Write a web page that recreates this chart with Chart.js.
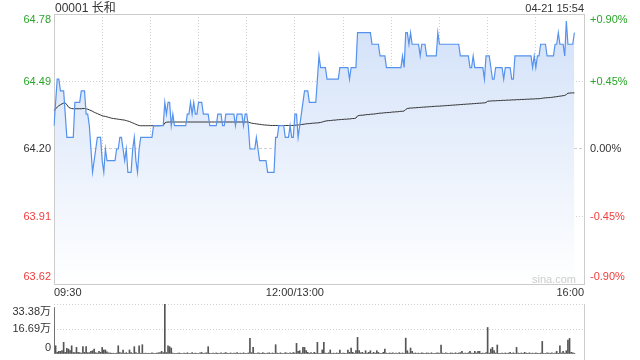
<!DOCTYPE html>
<html><head><meta charset="utf-8">
<script src="https://cdn.jsdelivr.net/npm/chart.js@4/dist/chart.umd.min.js"></script>
<style>
html,body{margin:0;padding:0;background:#fff;width:640px;height:360px;overflow:hidden}
#wrap{position:relative;width:640px;height:360px}
canvas{position:absolute;left:0}
#main{top:0}
#vol{top:296px}
.t{position:absolute;font-family:"Liberation Sans",Arial,"Noto Sans CJK SC",sans-serif;color:#333;white-space:nowrap;line-height:1}
</style></head><body>
<div id="wrap">
<canvas id="main" width="640" height="300"></canvas>
<canvas id="vol" width="640" height="64"></canvas>
<div class="t" style="left:55px;top:2px;font-size:12px">00001 长和</div>
<div class="t" style="right:56px;top:3px;font-size:11px">04-21 15:54</div>
<div class="t" style="left:532px;top:274px;font-size:11px;color:#cdcdcd">sina.com</div>
</div>
<script>
// ---- data ----
const prevClose = 64.20;
const priceTicks = [63.62, 63.91, 64.20, 64.49, 64.78];
const priceTickLabels = ['63.62', '63.91', '64.20', '64.49', '64.78'];
const pctTicks = [-0.90, -0.45, 0, 0.45, 0.90];
const pctTickLabels = ['-0.90%', '-0.45%', '0.00%', '+0.45%', '+0.90%'];
const tickColors = ['#f03c3c', '#f03c3c', '#333333', '#2aa62a', '#2aa62a'];
const volTicks = [0, 16.69, 33.38];
const volTickLabels = ['0', '16.69万', '33.38万'];
const xTickIndex = [0, 150, 330];
const xTickLabels = ['09:30', '12:00/13:00', '16:00'];

const price = [
64.30,64.40,64.50,64.50,64.45,64.45,64.45,64.35,64.25,64.25,
64.25,64.25,64.25,64.40,64.40,64.40,64.40,64.45,64.45,64.45,
64.35,64.35,64.30,64.20,64.10,64.15,64.20,64.25,64.25,64.25,
64.15,64.10,64.20,64.15,64.15,64.15,64.15,64.15,64.15,64.20,
64.20,64.25,64.25,64.20,64.15,64.20,64.10,64.10,64.10,64.20,
64.25,64.15,64.10,64.20,64.25,64.25,64.25,64.25,64.25,64.25,
64.25,64.25,64.30,64.30,64.30,64.30,64.30,64.30,64.30,64.40,
64.35,64.40,64.40,64.30,64.35,64.30,64.30,64.30,64.30,64.30,
64.30,64.30,64.30,64.35,64.35,64.40,64.35,64.40,64.35,64.35,
64.40,64.40,64.40,64.35,64.35,64.35,64.35,64.30,64.30,64.30,
64.30,64.30,64.35,64.35,64.35,64.30,64.30,64.35,64.35,64.35,
64.35,64.35,64.35,64.30,64.35,64.35,64.35,64.35,64.30,64.35,
64.35,64.30,64.20,64.20,64.20,64.20,64.25,64.20,64.15,64.15,
64.15,64.15,64.15,64.10,64.10,64.10,64.10,64.10,64.25,64.25,
64.30,64.30,64.30,64.30,64.25,64.25,64.25,64.30,64.25,64.25,
64.35,64.35,64.25,64.30,64.35,64.40,64.45,64.45,64.45,64.40,
64.40,64.40,64.40,64.40,64.50,64.60,64.55,64.55,64.55,64.55,
64.50,64.50,64.50,64.50,64.50,64.50,64.50,64.50,64.55,64.55,
64.55,64.55,64.55,64.55,64.50,64.55,64.55,64.55,64.55,64.70,
64.70,64.70,64.70,64.70,64.70,64.70,64.70,64.70,64.65,64.65,
64.65,64.65,64.65,64.60,64.60,64.60,64.60,64.55,64.55,64.55,
64.55,64.55,64.55,64.55,64.55,64.55,64.55,64.60,64.55,64.70,
64.70,64.65,64.70,64.65,64.65,64.65,64.65,64.65,64.60,64.65,
64.65,64.65,64.60,64.60,64.60,64.60,64.60,64.60,64.60,64.70,
64.65,64.65,64.65,64.65,64.65,64.65,64.65,64.65,64.65,64.65,
64.65,64.65,64.65,64.60,64.60,64.60,64.60,64.60,64.60,64.55,
64.55,64.60,64.55,64.55,64.55,64.55,64.55,64.55,64.50,64.60,
64.60,64.60,64.55,64.50,64.50,64.55,64.55,64.55,64.55,64.55,
64.50,64.55,64.55,64.55,64.55,64.50,64.50,64.60,64.60,64.60,
64.60,64.60,64.60,64.60,64.60,64.60,64.60,64.60,64.55,64.60,
64.55,64.60,64.60,64.65,64.65,64.65,64.65,64.60,64.60,64.60,
64.60,64.60,64.65,64.65,64.70,64.65,64.65,64.65,64.60,64.75,
64.65,64.65,64.65,64.65,64.70
];

const avgPrice = [
64.365,64.372,64.380,64.386,64.390,64.394,64.397,64.398,64.390,64.380,
64.376,64.374,64.373,64.373,64.373,64.373,64.373,64.373,64.374,64.374,
64.373,64.371,64.368,64.365,64.362,64.358,64.355,64.352,64.349,64.346,
64.343,64.341,64.340,64.338,64.336,64.334,64.332,64.331,64.330,64.329,
64.328,64.327,64.326,64.325,64.324,64.322,64.320,64.318,64.315,64.312,
64.309,64.306,64.303,64.301,64.300,64.300,64.300,64.300,64.300,64.300,
64.300,64.300,64.300,64.300,64.300,64.300,64.300,64.301,64.301,64.312,
64.315,64.316,64.316,64.316,64.316,64.316,64.316,64.316,64.316,64.316,
64.316,64.316,64.316,64.316,64.316,64.316,64.316,64.316,64.316,64.316,
64.316,64.316,64.316,64.316,64.316,64.316,64.316,64.316,64.316,64.316,
64.316,64.316,64.316,64.316,64.316,64.316,64.316,64.316,64.316,64.316,
64.316,64.316,64.316,64.316,64.316,64.316,64.316,64.316,64.316,64.316,
64.316,64.316,64.313,64.311,64.310,64.309,64.308,64.307,64.306,64.305,
64.304,64.303,64.303,64.302,64.302,64.301,64.301,64.301,64.301,64.301,
64.301,64.301,64.301,64.301,64.301,64.301,64.301,64.301,64.301,64.301,
64.302,64.303,64.303,64.304,64.305,64.306,64.307,64.308,64.309,64.309,
64.310,64.311,64.311,64.312,64.312,64.313,64.314,64.316,64.318,64.320,
64.321,64.322,64.322,64.323,64.324,64.324,64.325,64.326,64.326,64.327,
64.327,64.328,64.328,64.329,64.329,64.330,64.331,64.331,64.333,64.342,
64.344,64.345,64.345,64.346,64.347,64.348,64.348,64.349,64.350,64.350,
64.351,64.352,64.353,64.354,64.354,64.355,64.356,64.356,64.357,64.357,
64.358,64.359,64.359,64.360,64.360,64.361,64.362,64.362,64.363,64.370,
64.374,64.375,64.376,64.376,64.377,64.377,64.378,64.378,64.379,64.379,
64.380,64.380,64.381,64.381,64.382,64.382,64.383,64.383,64.384,64.384,
64.384,64.385,64.385,64.386,64.386,64.387,64.387,64.388,64.388,64.389,
64.389,64.390,64.390,64.391,64.391,64.392,64.392,64.393,64.393,64.394,
64.394,64.395,64.395,64.396,64.396,64.397,64.397,64.398,64.398,64.400,
64.405,64.406,64.406,64.407,64.407,64.407,64.408,64.408,64.408,64.409,
64.409,64.409,64.410,64.410,64.410,64.411,64.411,64.411,64.412,64.412,
64.412,64.413,64.413,64.413,64.414,64.414,64.414,64.415,64.415,64.415,
64.416,64.416,64.416,64.417,64.418,64.419,64.420,64.420,64.421,64.421,
64.422,64.423,64.424,64.425,64.426,64.427,64.428,64.429,64.430,64.434,
64.440,64.440,64.441,64.441,64.441
];

// volume in 万 shares
const volume = [
31.0,5.5,1.2,1.8,1.8,2.2,7.8,1.1,3.8,3.3,
2.2,5.5,1.0,0.9,4.4,1.1,0.9,0.6,4.9,1.1,
4.9,0.9,0.9,1.8,2.2,3.3,0.9,0.6,1.8,1.1,
4.4,2.7,2.7,1.5,0.7,0.7,0.5,0.5,0.4,0.6,
5.5,0.9,0.7,2.7,0.5,0.9,0.5,2.7,0.9,0.4,
4.9,0.9,0.4,5.5,0.5,6.2,0.4,0.6,0.3,0.5,
0.4,0.7,0.5,0.3,0.6,0.8,1.0,1.8,0.9,33.38,
1.0,5.5,4.9,4.0,0.6,0.4,0.3,0.5,0.7,0.4,
0.3,0.6,0.4,0.8,0.5,0.3,0.9,0.4,0.6,0.5,
0.3,0.7,1.0,0.4,0.6,0.8,4.9,0.5,0.3,0.6,
0.4,0.7,0.5,0.3,0.8,0.4,0.6,1.0,0.5,0.4,
0.7,0.3,0.6,0.5,0.9,0.4,0.6,0.3,0.8,0.5,
0.4,0.7,10.4,0.9,4.4,0.5,0.3,0.7,0.6,0.4,
0.9,0.5,0.3,0.6,0.8,0.4,0.7,0.5,6.2,0.6,
0.4,0.8,0.5,0.3,0.9,0.6,0.4,0.7,0.5,1.0,
0.6,7.1,1.8,2.2,0.6,4.4,4.4,2.2,1.1,0.5,
0.9,0.4,1.1,0.6,7.8,0.5,0.4,2.7,7.8,0.6,
0.5,0.8,2.7,0.4,0.6,0.3,0.7,0.5,2.7,0.4,
0.6,0.5,0.3,2.7,1.1,4.0,1.1,0.5,2.2,11.1,
2.2,0.8,1.1,0.5,2.2,0.6,1.1,2.2,0.4,1.1,
0.6,2.2,1.1,0.5,0.4,1.1,3.3,0.6,0.4,0.7,
0.5,0.8,0.4,0.6,0.3,0.9,0.5,0.7,0.4,10.6,
2.2,0.6,4.0,1.8,0.5,0.7,0.4,0.6,0.3,0.8,
0.5,0.4,0.7,0.6,0.3,0.8,0.5,0.4,0.6,0.7,
0.5,6.0,0.6,0.4,0.8,0.5,0.3,0.7,0.6,0.4,
0.8,0.5,0.7,0.9,1.8,0.5,0.6,0.4,0.8,1.8,
0.6,0.5,1.8,0.7,1.8,1.8,0.5,0.6,0.4,0.9,
17.7,0.6,3.3,4.4,2.2,0.7,6.0,0.5,0.4,0.6,
0.3,0.7,0.5,0.6,1.1,0.4,0.8,0.5,4.4,0.6,
0.4,0.7,0.5,1.1,0.6,0.4,0.8,0.5,0.6,0.3,
0.7,0.5,0.4,0.6,8.4,0.5,0.4,0.7,0.6,0.5,
0.8,0.4,0.6,1.8,0.5,5.5,0.7,1.8,0.6,2.2,
9.3,10.4,1.1,0.8,0.5
];

// minute categories: 09:30-12:00 then 13:00-16:00 (331 slots)
const minuteLabels = [];
function hhmm(t){const h=Math.floor(t/60),m=t%60;return String(h).padStart(2,'0')+':'+String(m).padStart(2,'0');}
for (let t = 570; t <= 720; t++) minuteLabels.push(hhmm(t));
for (let t = 781; t <= 960; t++) minuteLabels.push(hhmm(t));

// ---- style ----
const FONT = "'Liberation Sans', Arial, 'Noto Sans CJK SC', sans-serif";
const GRID = '#cfcfcf';
const CLEAR = 'rgba(0,0,0,0)';
const LEFT_W = 54, RIGHT_W = 56;

const framePlugin = {
  id: 'frame',
  beforeDatasetsDraw(chart, args, opts) {
    const {ctx, chartArea: a} = chart;
    ctx.save();
    ctx.strokeStyle = '#cccccc';
    ctx.lineWidth = 1;
    if (opts.mode === 'box') {
      ctx.strokeRect(Math.round(a.left) + 0.5, Math.round(a.top) + 0.5, Math.round(a.right - a.left), Math.round(a.bottom - a.top));
    } else {
      ctx.beginPath();
      ctx.moveTo(Math.round(a.right) + 0.5, Math.round(a.top));
      ctx.lineTo(Math.round(a.right) + 0.5, chart.height);
      ctx.stroke();
    }
    ctx.restore();
  }
};

function edgeLabel(lbl, i, n) {
  if (i === n - 1) return ['', lbl];
  if (i === 0) return [lbl, ''];
  return lbl;
}
function noPad(s) { s.paddingTop = 0; s.paddingBottom = 0; s.paddingLeft = 0; s.paddingRight = 0; }

new Chart(document.getElementById('main'), {
  type: 'line',
  data: {
    labels: minuteLabels,
    datasets: [
      {
        label: 'price', data: price, yAxisID: 'y',
        borderColor: '#5592ee', borderWidth: 1.2, pointRadius: 0, tension: 0,
        fill: 'start',
        backgroundColor: (c) => {
          const ch = c.chart, a = ch.chartArea;
          if (!a) return 'rgba(210,225,248,0.8)';
          const g = ch.ctx.createLinearGradient(0, a.top, 0, a.bottom);
          g.addColorStop(0, '#d1e0f8');
          g.addColorStop(1, '#ffffff');
          return g;
        }
      },
      {
        label: 'avg', data: avgPrice, yAxisID: 'y',
        borderColor: '#333333', borderWidth: 1, pointRadius: 0, tension: 0, fill: false
      }
    ]
  },
  plugins: [framePlugin],
  options: {
    responsive: false, animation: false, events: [],
    layout: { padding: { top: 14, left: 0, right: 0, bottom: 0 } },
    plugins: { legend: { display: false }, tooltip: { enabled: false }, filler: { drawTime: 'beforeDatasetsDraw' }, frame: { mode: 'box' } },
    scales: {
      x: {
        type: 'category', offset: false,
        afterFit: (s) => { s.height = 16; noPad(s); },
        grid: { drawTicks: false, offset: false, color: (c) => (c.index % 30 === 0 && c.index > 0 && c.index < 330) ? GRID : CLEAR },
        border: { display: false, dash: [1, 2] },
        ticks: {
          autoSkip: false, maxRotation: 0, minRotation: 0, align: 'inner', padding: 2,
          color: '#333', font: { size: 11, family: FONT },
          callback: (v, i) => { const k = xTickIndex.indexOf(i); return k >= 0 ? xTickLabels[k] : ''; }
        }
      },
      y: {
        position: 'left', min: priceTicks[0], max: priceTicks[priceTicks.length - 1],
        afterBuildTicks: (s) => { s.ticks = priceTicks.map(v => ({ value: v })); },
        afterFit: (s) => { s.width = LEFT_W; noPad(s); },
        grid: { drawTicks: false, color: (c) => (c.index === 0 || c.index === priceTicks.length - 1) ? CLEAR : GRID },
        border: { display: false, dash: (c) => (c.tick && c.tick.value === prevClose) ? [3, 2] : [1, 2] },
        ticks: {
          autoSkip: false, padding: 3,
          color: (c) => tickColors[c.index],
          font: (c) => ({ size: 11, family: FONT, lineHeight: c.index === 0 ? 1.2 : 1.0 }),
          callback: (v, i) => edgeLabel(priceTickLabels[i], i, priceTickLabels.length)
        }
      },
      y2: {
        position: 'right', min: pctTicks[0], max: pctTicks[pctTicks.length - 1],
        afterBuildTicks: (s) => { s.ticks = pctTicks.map(v => ({ value: v })); },
        afterFit: (s) => { s.width = RIGHT_W; noPad(s); },
        grid: { display: false, drawTicks: false },
        border: { display: false },
        ticks: {
          autoSkip: false, padding: 6,
          color: (c) => tickColors[c.index],
          font: (c) => ({ size: 11, family: FONT, lineHeight: c.index === 0 ? 1.2 : 1.0 }),
          callback: (v, i) => edgeLabel(pctTickLabels[i], i, pctTickLabels.length)
        }
      }
    }
  }
});

new Chart(document.getElementById('vol'), {
  type: 'bar',
  data: {
    labels: minuteLabels,
    datasets: [{ label: 'volume', data: volume, backgroundColor: '#555555', barThickness: 1, borderWidth: 0 }]
  },
  plugins: [framePlugin],
  options: {
    responsive: false, animation: false, events: [],
    layout: { padding: { top: 8, bottom: 6, left: 0, right: RIGHT_W } },
    plugins: { legend: { display: false }, tooltip: { enabled: false }, frame: { mode: 'right' } },
    scales: {
      x: { type: 'category', offset: false, display: false, grid: { offset: false } },
      y: {
        position: 'left', min: volTicks[0], max: volTicks[volTicks.length - 1],
        afterBuildTicks: (s) => { s.ticks = volTicks.map(v => ({ value: v })); },
        afterFit: (s) => { s.width = LEFT_W; noPad(s); },
        grid: { drawTicks: false, color: (c) => c.index === 0 ? CLEAR : GRID },
        border: { display: false, dash: [1, 2] },
        ticks: {
          autoSkip: false, padding: 3, color: '#333',
          font: (c) => ({ size: 11, family: FONT, lineHeight: c.index === 0 ? 1.1 : 1.4 }),
          callback: (v, i) => edgeLabel(volTickLabels[i], i, volTickLabels.length)
        }
      }
    }
  }
});
</script>
</body></html>
